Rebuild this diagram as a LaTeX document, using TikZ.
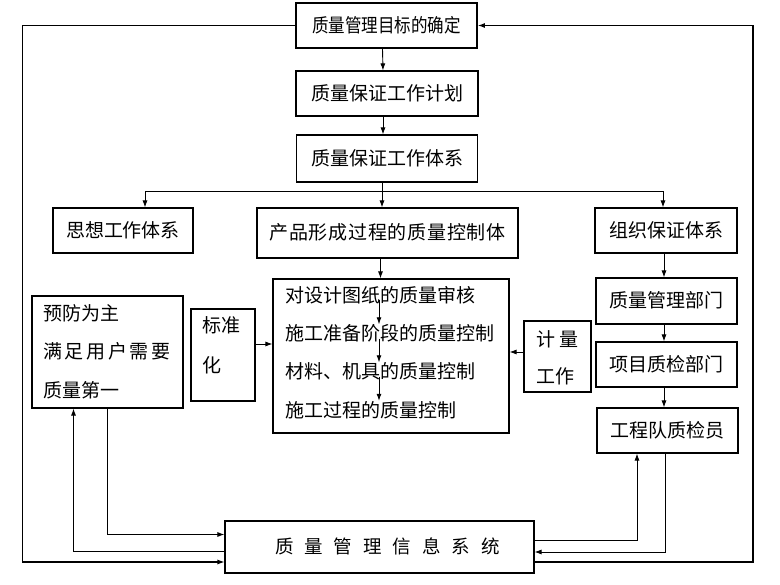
\documentclass[tikz,border=0pt]{standalone}
\usepackage{graphicx}
\usepackage{fontspec}
\setmainfont{Noto Sans CJK SC}
\usetikzlibrary{arrows.meta,calc}
\begin{document}
\begin{tikzpicture}[x=1pt,y=-1pt,
  font=\fontsize{19pt}{22pt}\selectfont,
  box/.style={draw, line width=1.1pt, inner sep=0pt, text height=1.45em, text depth=0.07em},
  txt/.style={inner sep=0pt, anchor=west, text height=0.83em, text depth=0.07em},
  arr/.style={-{Latex[length=7pt,width=5pt]}, line width=0.9pt},
  ln/.style={line width=0.9pt},
  outer/.style={-{Latex[length=7pt,width=5pt]}, line width=1.1pt}]
\fill[white] (0,0) rectangle (780,585);
\useasboundingbox (0,0) rectangle (780,585);

% top chain
\node[box, line width=1.8pt, minimum width=181pt, minimum height=45pt] (goal) at (386.5,25.5) {\scalebox{0.87}[1]{质量管理目标的确定}};
\node[box, minimum width=182pt, minimum height=45pt] (plan) at (387,93.5) {质量保证工作计划};
\node[box, minimum width=181pt, minimum height=47pt] (sys) at (387,158.5) {质量保证工作体系};

% second level
\node[box, minimum width=140pt, minimum height=45pt] (think) at (123,230.5) {思想工作体系};
\node[box, minimum width=261pt, minimum height=50pt] (prod) at (387.5,233) {\addfontfeatures{LetterSpace=4}产品形成过程的质量控制体};
\node[box, minimum width=142pt, minimum height=45pt] (org) at (666,230.5) {组织保证体系};

% right chain
\node[box, minimum width=141pt, minimum height=46pt] (qdept) at (666.5,301) {质量管理部门};
\node[box, minimum width=141pt, minimum height=45pt] (pdept) at (666.5,364.5) {项目质检部门};
\node[box, minimum width=141pt, minimum height=45pt] (team) at (667.5,430.5) {工程队质检员};

% middle big box
\node[box, minimum width=236pt, minimum height=154pt] (big) at (391,356) {};
\node[txt] (b1) at (285,298.5) {对设计图纸的质量审核};
\node[txt] (b2) at (285,337) {施工准备阶段的质量控制};
\node[txt] (b3) at (285,375) {材料、机具的质量控制};
\node[txt] (b4) at (285,413.5) {施工过程的质量控制};

% left box
\node[box, minimum width=151pt, minimum height=112pt] (prev) at (107.5,352) {};
\node[txt] (p1) at (43,316.5) {预防为主};
\node[txt] (p2) at (43,355) {\addfontfeatures{LetterSpace=14}满足用户需要};
\node[txt] (p3) at (43,393.5) {质量第一};

% standardisation
\node[box, minimum width=64pt, minimum height=92pt] (std) at (223,355) {};
\node[txt] (s1) at (202,328.5) {标准};
\node[txt] (s2) at (202,368.5) {化};

% measurement
\node[box, minimum width=67pt, minimum height=71pt] (meas) at (557.5,356.5) {};
\node[txt] (m1) at (536,342.5) {计 量};
\node[txt] (m2) at (536,379.5) {工作};

% info system
\node[box, minimum width=309pt, minimum height=52pt, font=\fontsize{18.5pt}{22pt}\selectfont] (info) at (379.5,547) {\hspace*{16pt}{\spaceskip=11pt 质 量 管 理 信 息 系 统}};

% helper coordinates
\coordinate (br) at (382,191);
\coordinate (cx) at (379,0);
\coordinate (h344) at (0,344);
\coordinate (h352) at (0,352);
\coordinate (lc) at (22.5,562);
\coordinate (rc) at (753,562);
\coordinate (h551) at (0,551);
\coordinate (v73) at (73.5,0);
\coordinate (h534) at (0,534.5);
\coordinate (h540) at (0,540);
\coordinate (v637) at (637,0);
\coordinate (h552) at (0,552);
\coordinate (v665) at (665,0);
\coordinate (v664) at (664,0);

% top chain connectors
\draw[arr] ([xshift=-4pt]goal.south) -- ([xshift=-4pt]plan.north);
\draw[arr] ([xshift=-4pt]plan.south) -- ([xshift=-4pt]sys.north);
\draw[ln] ([xshift=-5pt]sys.south) -- (br);
\draw[arr] (br) -| ([xshift=22pt]think.north);
\draw[arr] (br) -- (br |- prod.north);
\draw[arr] (br) -| ([xshift=-3pt]org.north);

% product -> big box
\draw[arr] ([xshift=-7pt]prod.south) -- ([xshift=-7pt]prod.south |- big.north);

% internal arrows
\draw[arr, shorten <=-3pt, shorten >=8pt] (b1.south -| cx) -- (b2.north -| cx);
\draw[arr, shorten <=-3pt, shorten >=8pt] (b2.south -| cx) -- (b3.north -| cx);
\draw[arr, shorten <=-3pt, shorten >=8pt] (b3.south -| cx) -- (b4.north -| cx);

% side inputs
\draw[arr] (std.east |- h344) -- (big.west |- h344);
\draw[arr] (meas.west |- h352) -- (big.east |- h352);

% right chain
\draw[arr] (org.south -| v664) -- (qdept.north -| v664);
\draw[arr] (qdept.south -| v664) -- (pdept.north -| v664);
\draw[arr] (pdept.south -| v664) -- (team.north -| v664);

% outer loop
\draw[outer] (goal.west) -| (lc) -- (info.west |- lc);
\draw[outer] (info.east |- rc) -- (rc) |- (goal.east);

% left box <-> info
\draw[arr] (info.west |- h551) -| (prev.south -| v73);
\draw[arr] ([xshift=-0.5pt]prev.south) |- (info.west |- h534);

% team <-> info
\draw[arr] (info.east |- h540) -| (team.south -| v637);
\draw[arr] (team.south -| v665) |- (info.east |- h552);
\end{tikzpicture}
\end{document}
